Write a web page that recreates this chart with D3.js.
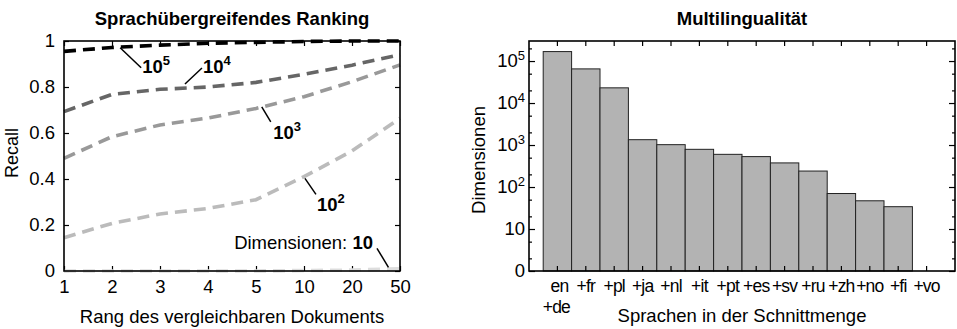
<!DOCTYPE html>
<html>
<head>
<meta charset="utf-8">
<script src="https://cdn.jsdelivr.net/npm/d3@7"></script>
<style>
  body { margin: 0; background: #fff; }
  svg { display: block; font-family: "Liberation Sans", Arial, Helvetica, sans-serif; }
  .tick line { stroke: #000; stroke-width: 1.2; }
  .tick text { fill: #000; }
</style>
</head>
<body>
<script>
// ---- left chart: recall by rank of the matching document ----
const ranks = ['1', '2', '3', '4', '5', '10', '20', '50'];
const recallTicks = [0, 0.2, 0.4, 0.6, 0.8, 1];
const recall1e5 = [0.955, 0.972, 0.982, 0.99, 0.994, 0.998, 1.0, 1.0];
const recall1e4 = [0.693, 0.768, 0.79, 0.80, 0.82, 0.855, 0.895, 0.94];
const recall1e3 = [0.49, 0.584, 0.635, 0.665, 0.707, 0.758, 0.823, 0.896];
const recall1e2 = [0.145, 0.207, 0.248, 0.272, 0.31, 0.41, 0.522, 0.664];
const recall1e1 = [0, 0, 0, 0, 0, 0.002, 0.004, 0.01];
const dimensionExponents = [5, 4, 3, 2, 1];

// ---- right chart: dimensions per language intersection ----
const languages = ['en+de', '+fr', '+pl', '+ja', '+nl', '+it', '+pt', '+es', '+sv', '+ru', '+zh', '+no', '+fi', '+vo'];
const dimensions = [168000, 65000, 23000, 1340, 1020, 790, 600, 530, 375, 240, 70, 47, 34, 0];
const dimTicks = [1, 10, 100, 1000, 10000, 100000];
const dimMinorTicks = [2, 5, 20, 50, 200, 500, 2000, 5000, 20000, 50000, 200000];

// styles
const lineColors = ['#000000', '#666666', '#999999', '#bbbbbb', '#dddddd'];
const fontSize = 18.5;

const width = 957, height = 329;
const svg = d3.select('body').append('svg')
  .attr('width', width)
  .attr('height', height);

/**
 * Draw the plot border
 */
function drawFrame(g, x0, x1, y0, y1) {
  g.append('rect')
    .attr('x', x0).attr('y', y0)
    .attr('width', x1 - x0).attr('height', y1 - y0)
    .attr('fill', 'none')
    .attr('stroke', '#000')
    .attr('stroke-width', 1.6);
}

/**
 * Write 10 with a raised exponent into a text element
 */
function powerLabel(sel, exp, supSize, rise) {
  sel.text('10');
  sel.append('tspan')
    .attr('dy', -rise)
    .attr('font-size', supSize)
    .text(exp);
}

/**
 * Left chart
 */
function drawRecallChart() {
  const left = 64, right = 400, top = 41, bottom = 271;
  const g = svg.append('g').attr('font-size', fontSize);

  const x = d3.scalePoint().domain(ranks).range([left, right]).padding(0);
  const y = d3.scaleLinear().domain([0, 1]).range([bottom, top]);
  const xAt = i => left + i * x.step();

  // axes with inward ticks on all four sides
  g.append('g').attr('transform', `translate(0,${bottom})`)
    .call(d3.axisBottom(x).tickSize(-5).tickPadding(9))
    .call(a => a.select('.domain').remove())
    .selectAll('text').attr('font-size', fontSize).attr('font-family', 'inherit');
  g.append('g').attr('transform', `translate(0,${top})`)
    .call(d3.axisTop(x).tickSize(-5).tickFormat(''))
    .call(a => a.select('.domain').remove());
  g.append('g').attr('transform', `translate(${left},0)`)
    .call(d3.axisLeft(y).tickValues(recallTicks).tickSize(-5).tickPadding(9).tickFormat(d3.format('~g')))
    .call(a => a.select('.domain').remove())
    .selectAll('text').attr('font-size', fontSize).attr('font-family', 'inherit');
  g.append('g').attr('transform', `translate(${right},0)`)
    .call(d3.axisRight(y).tickValues(recallTicks).tickSize(-5).tickFormat(''))
    .call(a => a.select('.domain').remove());

  // dashed recall lines, lightest first
  const series = [recall1e5, recall1e4, recall1e3, recall1e2, recall1e1];
  const line = d3.line().x((d, i) => x(ranks[i])).y(d => y(d));
  series.slice().reverse().forEach((values, k) => {
    const idx = series.length - 1 - k;
    g.append('path')
      .datum(values)
      .attr('d', line)
      .attr('fill', 'none')
      .attr('stroke', lineColors[idx])
      .attr('stroke-width', 3.6)
      .attr('stroke-dasharray', '12,7');
  });

  drawFrame(g, left, right, top, bottom);

  // leader lines and labels: anchor on the line, offset to the text
  const notes = [
    { at: 1.17, value: 0.971, dx: 21, dy: 20, tx: 1, ty: 5 },
    { at: 2.52, value: 0.813, dx: 17, dy: -16, tx: 1, ty: 4.5 },
    { at: 4.12, value: 0.714, dx: 9, dy: 15, tx: 2.5, ty: 17.5 },
    { at: 5.02, value: 0.403, dx: 11, dy: 16, tx: 1, ty: 17 },
    { at: 6.76, value: 0.016, dx: -11.5, dy: -19, tx: -4, ty: 0.5 }
  ];
  notes.forEach((n, i) => {
    const x0 = xAt(n.at), y0 = y(n.value);
    const x1 = x0 + n.dx, y1 = y0 + n.dy;
    g.append('line')
      .attr('x1', x0).attr('y1', y0)
      .attr('x2', x1).attr('y2', y1)
      .attr('stroke', '#000').attr('stroke-width', 1.5);
    const exp = dimensionExponents[i];
    if (exp > 1) {
      const t = g.append('text')
        .attr('x', x1 + n.tx).attr('y', y1 + n.ty)
        .attr('font-weight', 'bold');
      powerLabel(t, exp, 13, 8);
    } else {
      const t = g.append('text')
        .attr('x', x1 + n.tx).attr('y', y1 + n.ty)
        .attr('text-anchor', 'end');
      t.append('tspan').text('Dimensionen: ');
      t.append('tspan').attr('font-weight', 'bold').text('10');
    }
  });

  // titles
  g.append('text')
    .attr('x', (left + right) / 2).attr('y', 25)
    .attr('text-anchor', 'middle').attr('font-weight', 'bold')
    .text('Sprachübergreifendes Ranking');
  g.append('text')
    .attr('x', (left + right) / 2).attr('y', 323)
    .attr('text-anchor', 'middle')
    .text('Rang des vergleichbaren Dokuments');
  g.append('text')
    .attr('transform', `translate(17.5,${(top + bottom) / 2 - 3}) rotate(-90)`)
    .attr('text-anchor', 'middle')
    .attr('font-size', 18)
    .text('Recall');
}

/**
 * Right chart
 */
function drawDimensionChart() {
  const left = 529, right = 955, top = 41, bottom = 271;
  const g = svg.append('g').attr('font-size', fontSize);

  const x = d3.scaleBand().domain(languages).range([left, right])
    .paddingInner(0).paddingOuter(0.5);
  const y = d3.scaleLog().domain([1, 300000]).range([bottom, top]);

  // bars (value 0 gets no height)
  g.append('g').selectAll('rect')
    .data(languages.map((lang, i) => ({ lang, value: dimensions[i] })))
    .join('rect')
    .attr('x', d => x(d.lang))
    .attr('width', x.bandwidth())
    .attr('y', d => y(Math.max(d.value, 1)))
    .attr('height', d => y(1) - y(Math.max(d.value, 1)))
    .attr('fill', '#b3b3b3')
    .attr('stroke', d => d.value > 0 ? '#222' : 'none')
    .attr('stroke-width', 1);

  // x axes
  const bottomAxis = g.append('g').attr('transform', `translate(0,${bottom})`)
    .call(d3.axisBottom(x).tickSize(-5).tickPadding(9))
    .call(a => a.select('.domain').remove());
  bottomAxis.selectAll('text')
    .attr('font-size', 17.5).attr('font-family', 'inherit')
    .attr('letter-spacing', -0.8)
    .each(function(d) {
      const parts = d.split(/(?=\+)/);
      if (parts.length > 1 && !d.startsWith('+')) {
        const t = d3.select(this).text(null);
        t.append('tspan').attr('x', 2).text(parts[0]);
        t.append('tspan').attr('x', -1).attr('dy', 21).text(parts[1]);
      }
    });
  g.append('g').attr('transform', `translate(0,${top})`)
    .call(d3.axisTop(x).tickSize(-5).tickFormat(''))
    .call(a => a.select('.domain').remove());

  // y axes, major and minor ticks
  g.append('g').attr('transform', `translate(${left},0)`)
    .call(d3.axisLeft(y).tickValues(dimTicks).tickSize(-6).tickPadding(4).tickFormat(''))
    .call(a => a.select('.domain').remove())
    .selectAll('text')
    .attr('font-size', fontSize).attr('font-family', 'inherit')
    .each(function(d) {
      const t = d3.select(this);
      if (d === 1) t.text('0');
      else if (d === 10) t.text('10');
      else powerLabel(t, Math.round(Math.log10(d)), 13, 7);
    });
  g.append('g').attr('transform', `translate(${left},0)`)
    .call(d3.axisLeft(y).tickValues(dimMinorTicks).tickSize(-3).tickFormat(''))
    .call(a => a.select('.domain').remove());
  g.append('g').attr('transform', `translate(${right},0)`)
    .call(d3.axisRight(y).tickValues(dimTicks).tickSize(-6).tickFormat(''))
    .call(a => a.select('.domain').remove());
  g.append('g').attr('transform', `translate(${right},0)`)
    .call(d3.axisRight(y).tickValues(dimMinorTicks).tickSize(-3).tickFormat(''))
    .call(a => a.select('.domain').remove());

  drawFrame(g, left, right, top, bottom);

  // titles
  g.append('text')
    .attr('x', (left + right) / 2).attr('y', 25)
    .attr('text-anchor', 'middle').attr('font-weight', 'bold')
    .text('Multilingualität');
  g.append('text')
    .attr('x', (left + right) / 2).attr('y', 322)
    .attr('text-anchor', 'middle')
    .text('Sprachen in der Schnittmenge');
  g.append('text')
    .attr('transform', `translate(485,${(top + bottom) / 2 + 4}) rotate(-90)`)
    .attr('text-anchor', 'middle')
    .text('Dimensionen');
}

drawRecallChart();
drawDimensionChart();
</script>
</body>
</html>
